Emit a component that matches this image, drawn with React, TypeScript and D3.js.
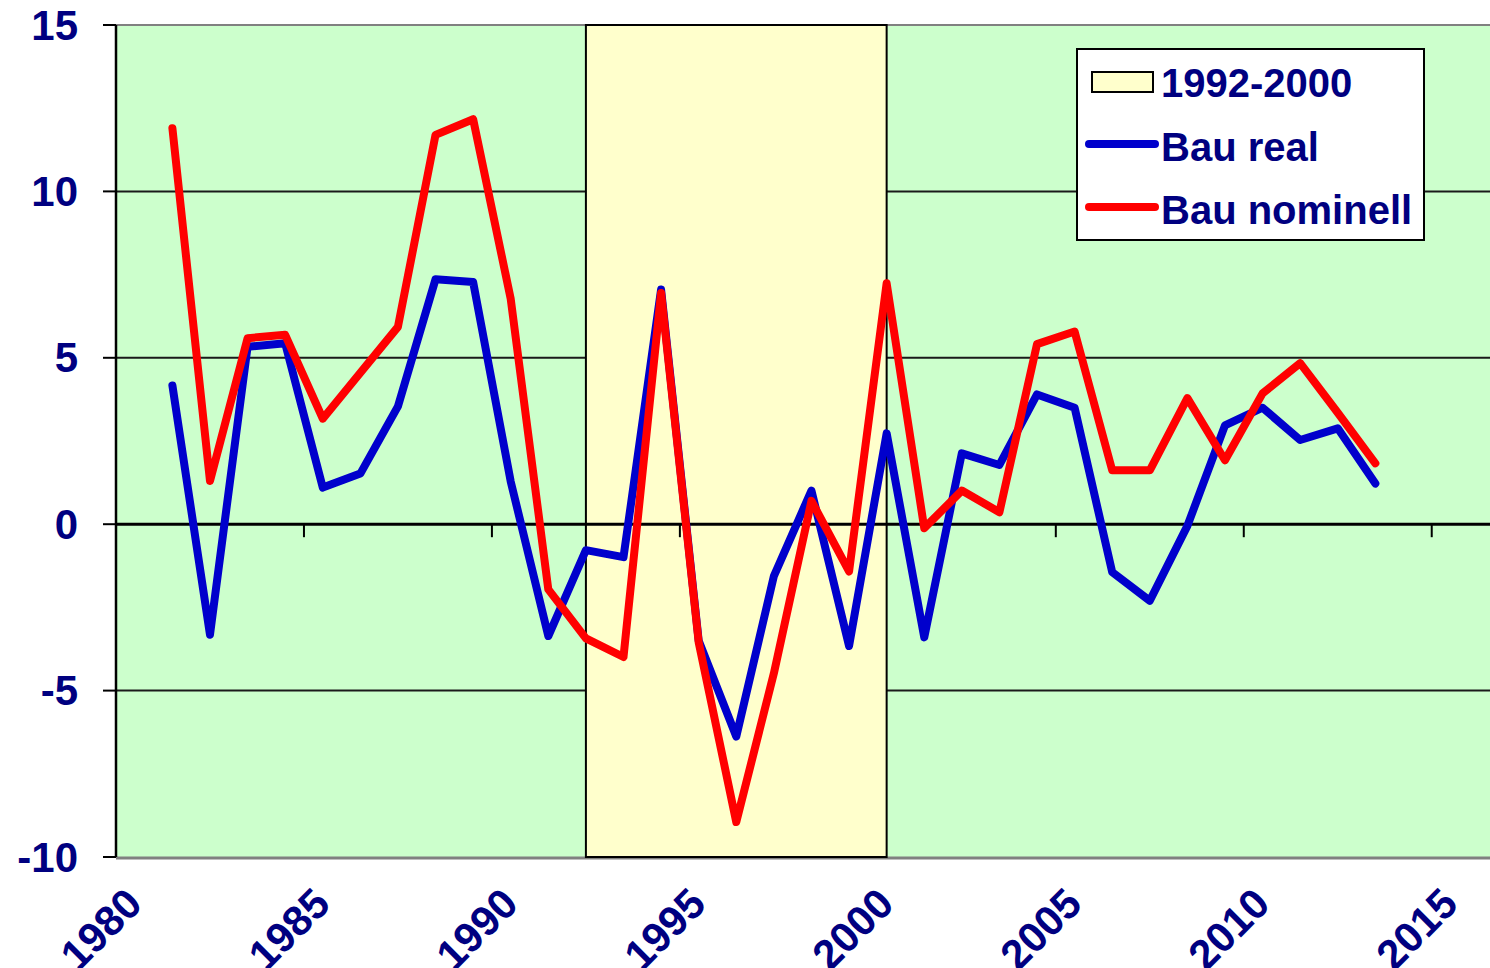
import React from "react";
import * as d3 from "d3";

const WIDTH = 1490;
const HEIGHT = 968;

const MARGIN = { left: 116, right: 0, top: 25, bottom: 111 };

const years = [
  1981, 1982, 1983, 1984, 1985, 1986, 1987, 1988, 1989, 1990, 1991, 1992, 1993, 1994, 1995, 1996, 1997,
  1998, 1999, 2000, 2001, 2002, 2003, 2004, 2005, 2006, 2007, 2008, 2009, 2010, 2011, 2012, 2013,
];

// Bau real
const realValues = [
  4.17, -3.32, 5.33, 5.44, 1.1, 1.52, 3.54, 7.36, 7.28, 1.28, -3.36, -0.78, -0.99, 7.05, -3.5, -6.38,
  -1.56, 1.01, -3.66, 2.73, -3.4, 2.13, 1.78, 3.9, 3.5, -1.44, -2.3, -0.05, 2.97, 3.5, 2.53, 2.88, 1.22,
];

// Bau nominell
const nominalValues = [
  11.9, 1.3, 5.59, 5.69, 3.17, 4.55, 5.93, 11.7, 12.17, 6.77, -1.96, -3.43, -3.99, 6.95, -3.55, -8.95,
  -4.48, 0.7, -1.42, 7.24, -0.12, 1.01, 0.36, 5.41, 5.79, 1.62, 1.62, 3.79, 1.92, 3.93, 4.84, 3.35, 1.83,
];

const bandYears = [1992, 2000];
const xTicks = [1980, 1985, 1990, 1995, 2000, 2005, 2010, 2015];
const yTicks = [-10, -5, 0, 5, 10, 15];

const legendLabels = ["1992-2000", "Bau real", "Bau nominell"];

const GREEN = "#CCFFCC";
const YELLOW = "#FFFFCC";
const BLUE = "#0000CC";
const RED = "#FF0000";
const NAVY = "#000080";
const FONT = "'Liberation Sans', Arial, sans-serif";

export default function App() {
  const x = d3.scaleLinear().domain([1980, 2016.55]).range([MARGIN.left, WIDTH - MARGIN.right]);
  const y = d3.scaleLinear().domain([-10, 15]).range([HEIGHT - MARGIN.bottom, MARGIN.top]);

  const line = d3
    .line<number>()
    .x((_, i) => x(years[i] + 0.5))
    .y((d) => y(d));

  const plotLeft = x(1980);
  const plotRight = WIDTH - MARGIN.right;
  const plotTop = y(15);
  const plotBottom = y(-10);

  const bandX0 = x(bandYears[0] + 0.5);
  const bandX1 = x(bandYears[1] + 0.5);

  return (
    <div style={{ position: "absolute", left: 0, top: 0 }}>
      <svg width={WIDTH} height={HEIGHT} style={{ display: "block", background: "#fff" }}>
        {/* plot area */}
        <rect x={plotLeft} y={plotTop} width={plotRight - plotLeft} height={plotBottom - plotTop} fill={GREEN} />
        <line x1={plotLeft} x2={plotRight} y1={plotTop} y2={plotTop} stroke="#808080" strokeWidth={2} />
        <line x1={plotLeft} x2={plotRight} y1={plotBottom + 1} y2={plotBottom + 1} stroke="#808080" strokeWidth={3} />

        {/* grid */}
        {yTicks
          .filter((t) => t !== 15 && t !== -10 && t !== 0)
          .map((t) => (
            <line key={t} x1={plotLeft} x2={plotRight} y1={y(t)} y2={y(t)} stroke="#1a1a1a" strokeWidth={2} />
          ))}

        {/* 1992-2000 band */}
        <rect
          x={bandX0}
          y={plotTop}
          width={bandX1 - bandX0}
          height={plotBottom - plotTop}
          fill={YELLOW}
          stroke="#000"
          strokeWidth={2}
        />

        {/* x axis at zero */}
        <line x1={plotLeft} x2={plotRight} y1={y(0)} y2={y(0)} stroke="#000" strokeWidth={3} />
        {xTicks.map((t) => (
          <line key={t} x1={x(t)} x2={x(t)} y1={y(0)} y2={y(0) + 13} stroke="#000" strokeWidth={2} />
        ))}

        {/* y axis */}
        <line x1={plotLeft} x2={plotLeft} y1={plotTop} y2={plotBottom} stroke="#000" strokeWidth={2.5} />
        {yTicks.map((t) => (
          <line key={t} x1={plotLeft - 13} x2={plotLeft} y1={y(t)} y2={y(t)} stroke="#000" strokeWidth={2} />
        ))}
        {yTicks.map((t) => (
          <text
            key={t}
            x={78}
            y={y(t)}
            textAnchor="end"
            dominantBaseline="central"
            fontFamily={FONT}
            fontWeight="bold"
            fontSize={42}
            fill={NAVY}
          >
            {t}
          </text>
        ))}

        {/* x labels */}
        {xTicks.map((t) => (
          <text
            key={t}
            transform={`translate(${x(t) + 18},${896}) rotate(-45)`}
            textAnchor="end"
            dominantBaseline="central"
            fontFamily={FONT}
            fontWeight="bold"
            fontSize={42}
            fill={NAVY}
          >
            {t}
          </text>
        ))}

        {/* series */}
        <path d={line(realValues) ?? ""} fill="none" stroke={BLUE} strokeWidth={8} strokeLinejoin="round" strokeLinecap="round" />
        <path d={line(nominalValues) ?? ""} fill="none" stroke={RED} strokeWidth={8} strokeLinejoin="round" strokeLinecap="round" />

        {/* legend */}
        <g fontFamily={FONT} fontWeight="bold" fontSize={40} fill={NAVY}>
          <rect x={1077} y={49} width={347} height={191} fill="#fff" stroke="#000" strokeWidth={2} />
          <rect x={1092} y={72} width={61} height={20} fill={YELLOW} stroke="#000" strokeWidth={2} />
          <text x={1161} y={97}>{legendLabels[0]}</text>
          <line x1={1089} x2={1155} y1={144} y2={144} stroke={BLUE} strokeWidth={8} strokeLinecap="round" />
          <text x={1161} y={161}>{legendLabels[1]}</text>
          <line x1={1089} x2={1155} y1={207} y2={207} stroke={RED} strokeWidth={8} strokeLinecap="round" />
          <text x={1161} y={224}>{legendLabels[2]}</text>
        </g>
      </svg>
    </div>
  );
}
